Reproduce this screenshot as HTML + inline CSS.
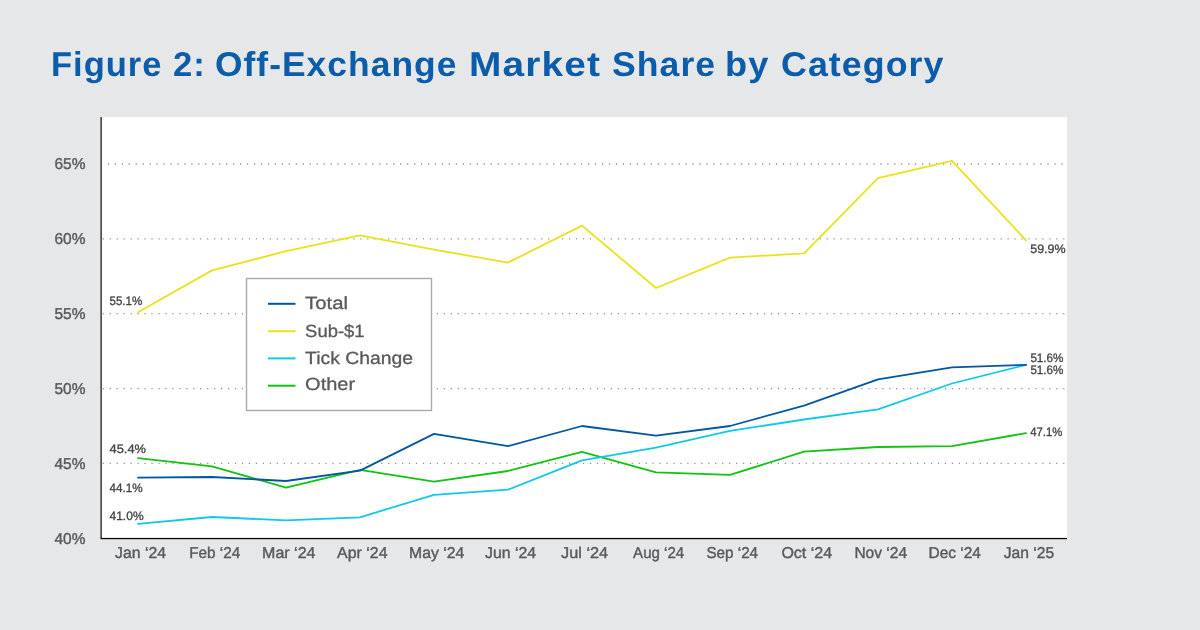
<!DOCTYPE html>
<html lang="en"><head><meta charset="utf-8"><title>Figure 2: Off-Exchange Market Share by Category</title>
<style>
html,body{margin:0;padding:0;}
body{width:1200px;height:630px;background:#e6e7e8;overflow:hidden;font-family:"Liberation Sans",Arial,sans-serif;position:relative;}
h1{position:absolute;left:0;top:45.2px;margin:0;width:1200px;height:40px;font-size:34.4px;line-height:40px;font-weight:700;color:#0b5cab;text-rendering:geometricPrecision;white-space:nowrap;letter-spacing:1px;}
h1 span{position:absolute;top:0;display:block;transform-origin:0 50%;}
svg{position:absolute;left:0;top:0;}
svg text{font-family:"Liberation Sans",Arial,sans-serif;text-rendering:geometricPrecision;}
.ax text{font-size:15.7px;fill:#58595b;stroke:#58595b;stroke-width:0.4px;}
.dl text{font-size:12.3px;fill:#414042;stroke:#414042;stroke-width:0.3px;}
.lg text{font-size:17.7px;fill:#58595b;stroke:#58595b;stroke-width:0.3px;}
.grid line{stroke:#8e8e8e;stroke-width:1.3;stroke-dasharray:1.2 5.76;}
.ln polyline{fill:none;stroke-width:1.8;stroke-linejoin:round;stroke-linecap:round;}
</style></head><body>
<h1><span style="left:50.5px;transform:scaleX(1.0029)">Figure</span> <span style="left:172.7px;transform:scaleX(1.0071)">2:</span> <span style="left:215.2px;transform:scaleX(1.0289)">Off-Exchange</span> <span style="left:468.5px;transform:scaleX(1.1302)">Market</span> <span style="left:611.5px;transform:scaleX(1.0352)">Share</span> <span style="left:725.4px;transform:scaleX(1.0537)">by</span> <span style="left:781.0px;transform:scaleX(1.0406)">Category</span></h1>
<svg width="1200" height="630" viewBox="0 0 1200 630">
<rect x="101" y="117" width="966" height="421" fill="#fff"/>
<g class="grid"><line x1="107.8" x2="1067" y1="164.0" y2="164.0"/><line x1="102.7" x2="1067" y1="238.85" y2="238.85"/><line x1="102.7" x2="1067" y1="313.7" y2="313.7"/><line x1="102.7" x2="1067" y1="388.55" y2="388.55"/><line x1="102.7" x2="1067" y1="463.4" y2="463.4"/></g>
<g class="ln">
<polyline stroke="#e6e41c" points="138,312.3 212,270.4 286,251.2 360,235.4 434,249.6 508,262.6 582,225.6 656,288.0 730,257.7 804,253.3 878,178.1 952,160.8 1026,240.3"/>
<polyline stroke="#12c312" points="138,458.2 212,466.3 286,487.6 360,469.9 434,481.6 508,471.0 582,451.9 656,472.3 730,474.9 804,451.6 878,447.0 952,446.2 1026,433.1"/>
<polyline stroke="#10c9e8" points="138,523.9 212,517.0 286,520.4 360,517.3 434,494.8 508,489.6 582,460.4 656,447.6 730,430.9 804,419.5 878,409.3 952,383.5 1026,364.9"/>
<polyline stroke="#0057a0" points="138,477.6 212,477.0 286,481.0 360,470.6 434,433.9 508,446.2 582,426.0 656,435.6 730,426.0 804,405.6 878,379.3 952,367.3 1026,364.9"/>
</g>
<rect x="100.3" y="117" width="1.7" height="421.5" fill="#4f4f4f"/>
<rect x="100.6" y="537.9" width="966.4" height="1.3" fill="#0a0a0a"/>
<g class="ax yl"><text x="54.5" y="168.75" textLength="31" lengthAdjust="spacingAndGlyphs">65%</text><text x="54.5" y="243.75" textLength="31" lengthAdjust="spacingAndGlyphs">60%</text><text x="54.5" y="318.75" textLength="31" lengthAdjust="spacingAndGlyphs">55%</text><text x="54.5" y="393.75" textLength="31" lengthAdjust="spacingAndGlyphs">50%</text><text x="54.5" y="468.75" textLength="31" lengthAdjust="spacingAndGlyphs">45%</text><text x="54.5" y="543.75" textLength="31" lengthAdjust="spacingAndGlyphs">40%</text></g>
<g class="ax xl"><text x="115.1" y="557.9" textLength="51.1" lengthAdjust="spacingAndGlyphs">Jan ‘24</text><text x="189.2" y="557.9" textLength="51.1" lengthAdjust="spacingAndGlyphs">Feb ‘24</text><text x="262.1" y="557.9" textLength="53.4" lengthAdjust="spacingAndGlyphs">Mar ‘24</text><text x="337.1" y="557.9" textLength="50.4" lengthAdjust="spacingAndGlyphs">Apr ‘24</text><text x="409.1" y="557.9" textLength="55.1" lengthAdjust="spacingAndGlyphs">May ‘24</text><text x="485.1" y="557.9" textLength="51.1" lengthAdjust="spacingAndGlyphs">Jun ‘24</text><text x="561.1" y="557.9" textLength="47.1" lengthAdjust="spacingAndGlyphs">Jul ‘24</text><text x="633.1" y="557.9" textLength="51.1" lengthAdjust="spacingAndGlyphs">Aug ‘24</text><text x="706.4" y="557.9" textLength="51.7" lengthAdjust="spacingAndGlyphs">Sep ‘24</text><text x="781.4" y="557.9" textLength="50.7" lengthAdjust="spacingAndGlyphs">Oct ‘24</text><text x="854.4" y="557.9" textLength="52.7" lengthAdjust="spacingAndGlyphs">Nov ‘24</text><text x="928.5" y="557.9" textLength="52.4" lengthAdjust="spacingAndGlyphs">Dec ‘24</text><text x="1003.8" y="557.9" textLength="50.4" lengthAdjust="spacingAndGlyphs">Jan ‘25</text></g>
<g class="dl">
<text x="109.5" y="305" textLength="32.8" lengthAdjust="spacingAndGlyphs">55.1%</text>
<text x="109.5" y="453.3" textLength="36.5" lengthAdjust="spacingAndGlyphs">45.4%</text>
<text x="109.5" y="492" textLength="33.1" lengthAdjust="spacingAndGlyphs">44.1%</text>
<text x="109.5" y="520" textLength="34.1" lengthAdjust="spacingAndGlyphs">41.0%</text>
<text x="1030.2" y="253.3" textLength="35.4" lengthAdjust="spacingAndGlyphs">59.9%</text>
<text x="1030.4" y="362" textLength="33" lengthAdjust="spacingAndGlyphs">51.6%</text>
<text x="1030.4" y="374.1" textLength="33" lengthAdjust="spacingAndGlyphs">51.6%</text>
<text x="1030.2" y="436" textLength="32.1" lengthAdjust="spacingAndGlyphs">47.1%</text>
</g>
<g class="lg">
<rect x="246.5" y="278.5" width="185" height="132" fill="#fff" stroke="#a9aaad" stroke-width="1.4"/>
<line x1="268" x2="295.5" y1="303.8" y2="303.8" stroke="#0057a0" stroke-width="2"/>
<line x1="268" x2="295.5" y1="331.2" y2="331.2" stroke="#e6e41c" stroke-width="2"/>
<line x1="268" x2="295.5" y1="358.4" y2="358.4" stroke="#10c9e8" stroke-width="2"/>
<line x1="268" x2="295.5" y1="385.7" y2="385.7" stroke="#12c312" stroke-width="2"/>
<text x="305.1" y="309.45" textLength="43" lengthAdjust="spacingAndGlyphs">Total</text>
<text x="305.1" y="336.75" textLength="59.5" lengthAdjust="spacingAndGlyphs">Sub-$1</text>
<text x="305.1" y="363.6" textLength="108" lengthAdjust="spacingAndGlyphs">Tick Change</text>
<text x="305.1" y="390.4" textLength="50.1" lengthAdjust="spacingAndGlyphs">Other</text>
</g>
</svg>
</body></html>
